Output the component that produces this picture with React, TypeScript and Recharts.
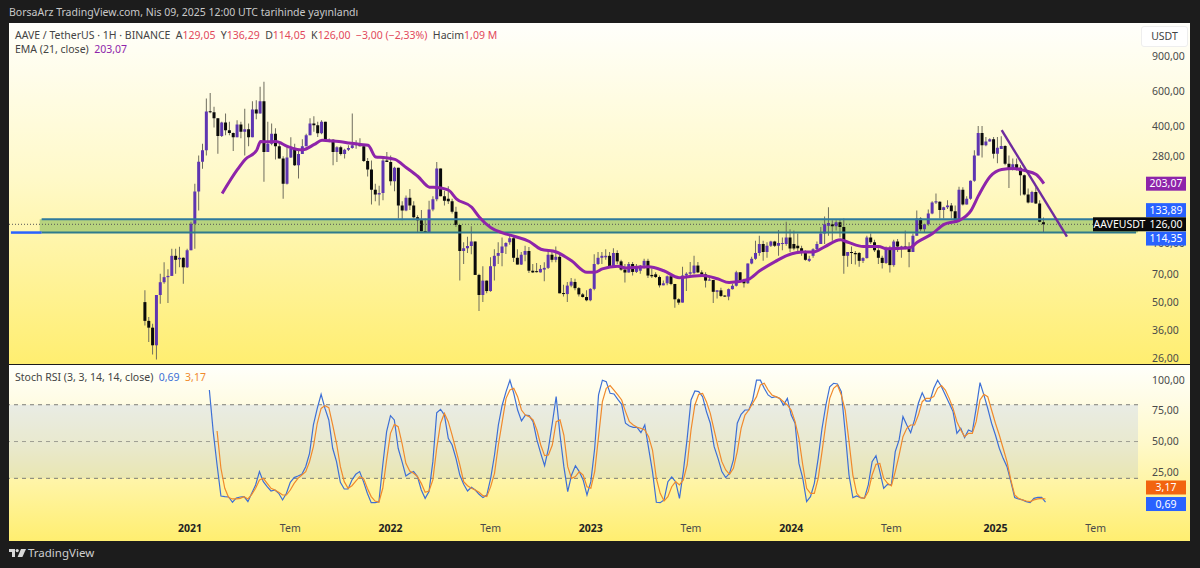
import { Bar, Cell, ComposedChart, Line, ReferenceArea, ReferenceLine, XAxis, YAxis } from "recharts";

// weekly AAVE/USDT candles (first candle sits on week slot 35)
const opens = [
  50.5, 40.5, 37.4, 30.4, 54.9, 63.8, 67.7, 68.7, 87, 83.5, 85, 76, 93, 127, 185, 263, 301, 475, 470, 438,
  356, 417, 380, 368, 350, 407, 374, 385, 350, 485, 463, 535, 295, 325, 365, 315, 273, 203, 276, 306,
  252, 288, 315, 359, 412, 404, 367, 420, 335, 340, 295, 312, 288, 303, 309, 319, 325, 315, 265, 240,
  189, 179, 182, 267, 262, 209, 245, 157, 148, 172, 157, 137, 132, 116, 114.5, 150, 169, 243, 175, 170,
  165, 146, 125, 92, 95, 97.5, 103, 69.5, 54.9, 65, 57.5, 77, 87, 90, 97, 102, 107, 85, 78.5, 88,
  92, 73, 72.6, 71.6, 74, 75.5, 88, 83, 86, 56, 55.5, 61.3, 64, 59.5, 55.3, 53.6, 51.6, 59, 79, 85,
  85.5, 87, 77, 90, 81.5, 74, 71.5, 79, 72, 73, 77.5, 82, 69.5, 70, 67.8, 61.5, 63, 68.4, 62.5, 52.2,
  50.2, 69, 70.5, 71, 77.6, 71.6, 70, 65, 65.5, 57, 58, 54.3, 53.9, 58.8, 61.2, 71.7, 65, 63, 79.5, 84,
  90, 100, 91, 98, 103, 98, 100, 100, 108, 100, 98, 95, 91, 82, 87, 94, 100, 113, 124, 126,
  123, 129, 122, 87, 91, 90, 90, 82, 84.7, 108, 102, 93, 85, 80, 95, 78, 103, 95, 97, 95,
  91, 110, 135, 119, 126, 143, 163, 164, 149, 154, 157, 147, 132, 189, 159, 170, 210, 283, 368, 319,
  333, 342, 289, 305, 316, 257, 240, 255, 245, 224, 179, 163, 184, 161, 129.05,
];
const highs = [
  58, 42.4, 39.2, 54.9, 70.4, 80.7, 74.4, 94.6, 94.6, 96.8, 85.6, 94.6, 130, 203, 283, 325, 553, 590, 502, 438,
  420, 463, 420, 371, 428, 420, 490, 412, 535, 542, 635, 673, 420, 412, 390, 333, 280, 319, 350, 325,
  306, 342, 365, 438, 448, 420, 428, 420, 345, 342, 315, 317, 306, 319, 463, 338, 346, 319, 275, 267,
  203, 198, 273, 295, 283, 248, 245, 165, 177, 191, 165, 140, 149, 135, 166, 175, 262, 243, 187, 197,
  170, 155, 125, 102, 109, 123, 103, 70.5, 77, 65, 85.5, 94, 102, 108, 102, 110, 110, 94, 91, 98,
  96.5, 79, 80, 78, 80.7, 93, 91, 97, 89, 62, 64, 67, 66.5, 60.3, 56.2, 58, 59.5, 88.5, 91, 91,
  94, 91, 95, 93, 83, 79, 81, 81, 79, 78, 84, 84, 75, 71.7, 69, 65, 69, 69, 62.5, 52.8,
  76.5, 71.7, 81, 87, 81, 73.5, 71.7, 69, 65.5, 58, 59.8, 54.7, 59.3, 62.6, 73, 72, 66.5, 79.5, 86, 104,
  110, 104, 102, 104, 104, 118, 108, 130, 119, 117, 113, 98, 93, 87, 95, 103, 122, 138, 154, 132,
  132, 133, 135, 91, 97, 92, 91, 85.5, 110, 113, 105, 95, 87, 97, 98, 105, 106, 98, 117, 102,
  113, 148, 137, 127, 150, 165, 181, 165, 155, 167, 162, 157, 196, 195, 175, 211, 301, 400, 400, 352,
  346, 352, 352, 355, 319, 283, 273, 273, 252, 226, 192, 187, 195, 167, 136.29,
];
const lows = [
  38.4, 31.6, 27.3, 25.7, 49.6, 62.6, 50, 68.9, 70.4, 76, 62.6, 75.4, 93, 94.6, 148, 242, 283, 465, 393, 289,
  352, 359, 359, 298, 350, 346, 283, 315, 350, 433, 463, 208, 295, 319, 270, 273, 170, 201, 275, 250,
  216, 288, 315, 359, 374, 352, 363, 335, 330, 252, 262, 283, 273, 298, 306, 306, 315, 262, 221, 159,
  165, 157, 167, 262, 199, 186, 135, 132, 147, 149, 135, 115, 116, 114, 114, 147, 165, 175, 157, 160,
  143, 122, 65, 79, 90, 88.5, 69.5, 45.5, 50.5, 56, 57, 65, 79, 77, 89, 99, 81, 78.5, 78, 81.5,
  71, 71, 71.5, 71.6, 64.5, 74.6, 80.7, 80.7, 56, 54, 50.6, 60.2, 58, 54, 53.3, 51, 51, 58, 78, 79,
  83, 76.5, 76.5, 79, 73, 63.5, 71.5, 69, 71, 70.5, 75, 67, 67, 67, 60, 61.5, 61.5, 61.5, 47.2, 49,
  50.2, 57.5, 69, 70, 71, 69, 60, 65, 50, 52.7, 53.7, 53.7, 51.6, 58.6, 60.6, 63.8, 60, 62.6, 78.7, 83,
  87, 82, 85, 96.5, 96.5, 87, 93, 98, 91, 93, 91, 87, 82, 81, 85, 92.5, 100, 100, 110, 104,
  117, 108, 70.5, 76.5, 79, 78.5, 76.5, 80, 84.2, 100, 91, 79, 75, 79, 71.5, 76.5, 91, 85, 94, 76,
  91, 110, 116, 115, 124, 142, 160, 135, 135, 151, 135, 130, 132, 157, 159, 168, 208, 283, 276, 315,
  333, 273, 258, 305, 252, 193, 237, 237, 177, 177, 161, 162, 160, 129, 114.05,
];
const closes = [
  40.5, 37.4, 30.4, 54.9, 63.8, 67.7, 68.7, 87, 83, 85, 76, 93, 127, 185, 263, 301, 475, 470, 438, 356,
  417, 380, 368, 350, 407, 374, 385, 350, 485, 463, 535, 295, 325, 365, 315, 273, 203, 276, 306, 252,
  288, 315, 359, 412, 404, 367, 420, 335, 340, 295, 312, 288, 303, 309, 319, 325, 315, 265, 240, 189,
  179, 182, 267, 262, 209, 245, 157, 148, 172, 157, 137, 132, 116, 114.5, 150, 169, 243, 175, 166, 165,
  146, 125, 92, 95, 97.5, 103, 69.5, 54.9, 65, 57.5, 77, 87, 90, 97, 101, 107, 85, 78.5, 88, 92,
  73, 71.6, 71.8, 74.6, 75.5, 88, 83, 86, 56, 55.5, 61.3, 64.2, 59.5, 55.3, 53.6, 51.6, 59, 79, 85, 87,
  87, 77, 90, 81.5, 74, 71.5, 79, 72, 77, 77.5, 82, 69, 68.4, 67.8, 61.5, 63, 68.4, 62.5, 52.2, 50.2,
  69, 70.5, 71.7, 77.6, 71.6, 70, 65, 65.5, 57, 58, 54.3, 53.9, 58.8, 61.2, 71.7, 65, 63, 79.5, 84, 90,
  100, 91, 98, 103, 98, 101, 101, 108, 94.7, 94.7, 95, 91, 83, 84, 94, 100, 113, 126, 128, 123,
  129, 122, 87, 91, 90, 88.5, 82, 84.7, 108, 102, 93, 85, 80, 95, 78, 103, 97, 97, 95, 91,
  110, 135, 119, 126, 143, 163, 165, 149, 154, 157, 147, 132, 189, 159, 170, 210, 283, 368, 319, 333,
  342, 289, 310, 316, 257, 240, 255, 240, 224, 179, 163, 184, 161, 130, 126,
];

// EMA and the drawn trend line are only read at their bends, connected across the gaps
const emaWeeks = [
  20, 24, 26, 29, 30, 32, 34, 37, 40, 41, 44, 46, 49, 53, 56, 58, 60, 62, 65, 68, 71, 74, 76, 79, 81, 85, 87, 90, 93, 96,
  100, 103, 107, 111, 115, 117, 119, 123, 125, 131, 135, 139, 143, 145, 149, 152, 157, 160, 164, 167, 171, 174, 177, 181,
  183, 187, 191, 193, 199, 201, 205, 208, 212, 215, 217, 220, 223, 226, 229, 232, 234,
];
const emaValues = [
  181, 240, 270, 301, 333, 332, 333, 315, 303, 303, 322, 338, 335, 328, 322, 319, 278, 276, 270, 245, 221, 195, 194, 188, 170, 154, 137, 121, 114, 109.5,
  103, 94, 91, 82, 71.7, 71.7, 74.6, 77, 75.5, 76.5, 73, 67.3, 68.7, 69, 66.4, 63.5, 66, 73, 81.3, 87.3, 91, 91, 97, 105,
  102, 97, 97, 94.6, 95.6, 102, 113, 126, 132, 148, 177, 221, 240, 243, 237, 226, 203.07,
];
const trendWeeks = [223, 240];
const trendValues = [381, 109];

// Stoch RSI, blue K starts on candle 17 and orange D on candle 19
const stochK = [
  92, 58, 30.9, 5.6, 5.1, 4.8, 0.5, 4, 4.8, 5.1, 1, 7.8, 14.6, 25.5, 17.3, 13.2, 9.7, 10.5, 7.8, 2.4,
  7.8, 16.8, 20.6, 21.9, 23.3, 29.5, 40.4, 63.5, 77, 88.5, 77, 67.6, 44.5, 33.6, 16.8, 11.3, 11.3, 18.7, 23.3, 25.5,
  17.3, 7.8, 0.2, 0.2, 1, 30.9, 58, 71.1, 67.6, 44.5, 33.6, 21.9, 24.1, 25.5, 21.4, 10.5, 3.7, 9.2, 33.6, 73.5,
  76.3, 71.6, 52.6, 47.2, 36.3, 22.7, 15.1, 9.7, 12.7, 10.5, 7, 4.3, 6.4, 20, 39, 63.5, 79.8, 90.7, 100, 89.3,
  75.7, 66.8, 71.6, 71.1, 66.2, 51.3, 40.4, 30.3, 44.5, 64.9, 86.6, 55.3, 29.5, 9.2, 22.7, 30.3, 25.5, 18.7, 6.4, 17.3,
  44.5, 88, 100, 98.8, 89.3, 88.8, 84.4, 80.3, 64.9, 62.7, 61.6, 61.6, 57.2, 63.5, 44.5, 25.5, 0.5, 0.2, 2.4, 17.3,
  21.1, 17.3, 3.7, 25.5, 52.6, 83.9, 91.2, 90.7, 86.6, 74.4, 64.9, 45.8, 36.3, 25.5, 20.6, 24.1, 35, 64.9, 72.2, 75.7,
  75.7, 83.9, 100, 100, 93.4, 88, 85.8, 86.6, 85.2, 79.8, 85.2, 71.6, 64.9, 32.2, 20, 1, 5.1, 15.9, 36.3, 60.8,
  79.8, 94.7, 97.5, 96.9, 90.7, 58, 22.7, 4.3, 5.6, 4.3, 3.7, 14.6, 33.6, 38.5, 25.5, 11.9, 15.1, 14.6, 41.8, 51.3,
  70.3, 63.5, 57.2, 67.6, 81.2, 89.8, 83, 83, 93.4, 100, 94.7, 88, 81.2, 74.4, 56.7, 60.8, 53.2, 59.4, 58, 77,
  98, 88, 77, 64.9, 55.3, 44.5, 36.3, 29.5, 17.3, 4.3, 3.2, 2.4, 1, 0.2, 3.7, 4.5, 4.5, 0.69,
];
const stochD = [
  58.6, 28.2, 11.9, 4.3, 3.2, 3.2, 3.7, 5.1, 3.2, 7, 11.9, 18.7, 20, 15.9, 11.9, 10.5, 8.6, 6.4, 6.4, 10.5,
  15.9, 20, 22.7, 25.5, 33.6, 45.8, 64.9, 77, 79.3, 77.6, 63.5, 48.6, 29.5, 17.3, 11.9, 14, 17.8, 21.4, 20, 11.9,
  5.1, 1.5, 0.5, 11.9, 35, 56.7, 64, 62.1, 48.6, 32.2, 26, 24.1, 21.4, 15.9, 8.6, 9.7, 18.7, 44.5, 64.9, 73,
  66.2, 55.3, 43.1, 30.9, 17.3, 14, 11.9, 10.5, 8.6, 5.9, 5.1, 13.2, 24.1, 47.2, 66.2, 85.2, 92, 93.4, 86.6, 75.7,
  71.6, 70.3, 67.6, 59.4, 47.2, 38.5, 39, 47.2, 66.2, 67.6, 55.3, 29.5, 20, 21.4, 25.5, 22.7, 13.2, 11.9, 25.5, 54,
  82.5, 93.4, 95.6, 92, 88, 83.9, 74.4, 66.2, 63.5, 61.6, 60.8, 59.4, 54, 43.1, 20, 7.8, 1.5, 5.1, 13.2, 17.3,
  14.6, 18.7, 30.9, 59.4, 79.8, 88.5, 89.3, 82.5, 73, 59.4, 45.8, 33.6, 26.8, 23.3, 28.2, 41.8, 60.8, 71.6, 75.7, 81.2,
  86.6, 96.1, 97.5, 92, 88, 86.6, 85.2, 82.5, 79.8, 75.7, 66.2, 52.6, 30.9, 11.9, 7.8, 7.8, 20, 41.8, 64.9, 85.2,
  93.4, 96.1, 88, 75.7, 49.9, 22.7, 7.8, 4.3, 3.7, 9.2, 22.7, 31.4, 32.2, 20, 15.9, 14, 25.5, 39, 54, 60.8,
  63.5, 63.5, 71.6, 82.5, 85.2, 85.2, 86.6, 93.4, 95.6, 92, 85.2, 77, 66.2, 59.4, 54, 56.7, 56.7, 66.2, 83.9, 88.5,
  86.6, 75.7, 64.9, 55.3, 44.5, 33.6, 18.7, 6.4, 3.7, 2.4, 1.5, 1, 2.4, 3.2, 3.7, 3.17,
];

const priceTicks = [900, 600, 400, 280, 100, 70, 50, 36, 26, 203.07, 133.89, 126, 114.35];
const stochTicks = [100, 75, 50, 25, 3.17, 0.69];
const timeWeeks = [47, 73, 99, 125, 151, 177, 203, 229, 256, 282];
const timeLabels = ["2021", "Tem", "2022", "Tem", "2023", "Tem", "2024", "Tem", "2025", "Tem"];

const FONT = "'Noto Sans', sans-serif";
const WEEK_SLOTS = 294;
const FIRST_CANDLE = 35;
const ZONE_TOP = 133.89;
const ZONE_BOTTOM = 114.35;
const ZONE_START = 8;
const UP = "#5e35b1";
const DOWN = "#0a0a0a";
const WICK = "#6f6d5e";
const GRADIENT = "linear-gradient(180deg, #fffffb 0%, #fff9c9 45%, #ffee70 100%)";

const rows = Array.from({ length: WEEK_SLOTS }, (_, week) => {
  const i = week - FIRST_CANDLE;
  const hasCandle = i >= 0 && i < opens.length;
  const emaAt = emaWeeks.indexOf(i);
  const trendAt = trendWeeks.indexOf(i);
  return {
    week,
    wick: hasCandle ? [lows[i], highs[i]] : null,
    body: hasCandle ? [Math.min(opens[i], closes[i]), Math.max(opens[i], closes[i])] : null,
    up: hasCandle && closes[i] >= opens[i],
    ema: emaAt >= 0 ? emaValues[emaAt] : null,
    trend: trendAt >= 0 ? trendValues[trendAt] : null,
    k: i >= 17 && i - 17 < stochK.length ? stochK[i - 17] : null,
    d: i >= 19 && i - 19 < stochD.length ? stochD[i - 19] : null,
  };
});

const fmt = (v: number) => v.toFixed(2).replace(".", ",");

// price labels that sit in a coloured box, some nudged apart like TradingView does
const chips: Record<string, { fill: string; shift: number; name?: string }> = {
  "203.07": { fill: "#8e24aa", shift: 0 },
  "133.89": { fill: "#2962ff", shift: -9 },
  "126": { fill: "#0a0a0a", shift: 0, name: "AAVEUSDT" },
  "114.35": { fill: "#2962ff", shift: 6 },
  "3.17": { fill: "#f2640f", shift: -11.5 },
  "0.69": { fill: "#2962ff", shift: 2 },
};

function ValueTick({ x, y, payload }: any) {
  const value = payload.value as number;
  const chip = chips[String(value)];
  if (!chip) {
    return (
      <text x={x + 6} y={y + 3.5} fontSize={10.5} fontFamily={FONT} fill="#4a4a4a">
        {fmt(value)}
      </text>
    );
  }
  const cy = y + chip.shift;
  return (
    <g>
      {chip.name && (
        <>
          <rect x={x - 53} y={cy - 7} width={53} height={14} fill={chip.fill} />
          <text x={x - 26.5} y={cy + 3.5} textAnchor="middle" fontSize={10.5} fontFamily={FONT} fill="#fff">
            {chip.name}
          </text>
        </>
      )}
      <rect x={x} y={cy - 7} width={40} height={14} fill={chip.fill} />
      <text x={x + 20} y={cy + 3.5} textAnchor="middle" fontSize={10.5} fontFamily={FONT} fill="#fff">
        {fmt(value)}
      </text>
    </g>
  );
}

function TimeTick({ x, y, payload }: any) {
  const label = timeLabels[timeWeeks.indexOf(payload.value)];
  const isYear = label !== "Tem";
  return (
    <text x={x} y={y} textAnchor="middle" fontSize={10.5} fontFamily={FONT} fontWeight={isYear ? 700 : 400} fill={isYear ? "#222" : "#4a4a4a"}>
      {label}
    </text>
  );
}

const red = { color: "#e2495c" };

export default function App() {
  return (
    <div style={{ position: "absolute", left: 0, top: 0, width: 1200, height: 568, background: "#1c1c1c", overflow: "hidden", fontFamily: FONT }}>
      <div style={{ position: "absolute", left: 9, top: 5, fontSize: 10.5, color: "#c9c9c9", whiteSpace: "nowrap" }}>
        BorsaArz TradingView.com, Nis 09, 2025 12:00 UTC tarihinde yayınlandı
      </div>

      <div style={{ position: "absolute", left: 9, top: 23, width: 1181, height: 341, background: GRADIENT }}>
        <ComposedChart width={1181} height={341} data={rows} margin={{ top: 0, right: 0, bottom: 0, left: 0 }}>
          <XAxis dataKey="week" hide />
          <XAxis dataKey="week" xAxisId="wick" hide />
          <YAxis
            orientation="right"
            width={52}
            scale="log"
            domain={[24.4, 1342]}
            allowDataOverflow
            ticks={priceTicks}
            interval={0}
            tick={<ValueTick />}
            tickLine={false}
            axisLine={false}
          />
          <ReferenceArea x1={ZONE_START} x2={WEEK_SLOTS - 1} y1={ZONE_BOTTOM} y2={ZONE_TOP} fill="#6fb04a" fillOpacity={0.5} stroke="none" />
          <ReferenceLine segment={[{ x: ZONE_START, y: ZONE_TOP }, { x: WEEK_SLOTS - 1, y: ZONE_TOP }]} stroke="#2f7a9c" strokeWidth={2} />
          <ReferenceLine segment={[{ x: ZONE_START, y: ZONE_BOTTOM }, { x: WEEK_SLOTS - 1, y: ZONE_BOTTOM }]} stroke="#2f7a8c" strokeWidth={2} />
          <ReferenceLine segment={[{ x: 0, y: ZONE_BOTTOM }, { x: ZONE_START, y: ZONE_BOTTOM }]} stroke="#2962ff" strokeWidth={2.5} />
          <ReferenceLine y={126} stroke="#555" strokeDasharray="1 2" />
          <Bar dataKey="wick" xAxisId="wick" barSize={1} fill={WICK} isAnimationActive={false} />
          <Bar dataKey="body" barSize={3} minPointSize={1} isAnimationActive={false}>
            {rows.map((r) => (
              <Cell key={r.week} fill={r.up ? UP : DOWN} />
            ))}
          </Bar>
          <Line dataKey="ema" type="monotone" connectNulls dot={false} stroke="#8e24aa" strokeWidth={3} isAnimationActive={false} />
          <Line dataKey="trend" type="linear" connectNulls dot={false} stroke="#6f2b9e" strokeWidth={2.4} isAnimationActive={false} />
        </ComposedChart>
        <div style={{ position: "absolute", left: 6, top: 5, fontSize: 10.5, color: "#444", whiteSpace: "nowrap" }}>
          AAVE / TetherUS · 1H · BINANCE&nbsp;&nbsp;A<span style={red}>129,05</span>&nbsp;&nbsp;Y<span style={red}>136,29</span>&nbsp;&nbsp;D<span style={red}>114,05</span>&nbsp;&nbsp;K<span style={red}>126,00</span>&nbsp;&nbsp;<span style={red}>−3,00 (−2,33%)</span>&nbsp;&nbsp;Hacim<span style={red}>1,09 M</span>
        </div>
        <div style={{ position: "absolute", left: 6, top: 19, fontSize: 10.5, color: "#444", whiteSpace: "nowrap" }}>
          EMA (21, close)&nbsp;&nbsp;<span style={{ color: "#8e24aa" }}>203,07</span>
        </div>
        <div style={{ position: "absolute", left: 1132, top: 3, width: 47, height: 21, boxSizing: "border-box", border: "1px solid #eeeeee", borderRadius: 3, background: "#fff", fontSize: 10.5, color: "#444", textAlign: "center", lineHeight: "19px" }}>
          USDT
        </div>
      </div>

      <div style={{ position: "absolute", left: 9, top: 365, width: 1181, height: 176, background: GRADIENT }}>
        <ComposedChart width={1181} height={176} data={rows} margin={{ top: 0, right: 0, bottom: 0, left: 0 }}>
          <XAxis dataKey="week" ticks={timeWeeks} interval={0} height={25} tick={<TimeTick />} tickLine={false} axisLine={false} tickMargin={10} />
          <YAxis
            orientation="right"
            width={52}
            domain={[-10.7, 112.4]}
            allowDataOverflow
            ticks={stochTicks}
            interval={0}
            tick={<ValueTick />}
            tickLine={false}
            axisLine={false}
          />
          <ReferenceArea y1={20} y2={80} fill="#2962ff" fillOpacity={0.1} stroke="none" />
          <ReferenceLine y={80} stroke="#7d7d78" strokeDasharray="4 4" />
          <ReferenceLine y={50} stroke="#7d7d78" strokeOpacity={0.7} strokeDasharray="4 4" />
          <ReferenceLine y={20} stroke="#7d7d78" strokeDasharray="4 4" />
          <Line dataKey="k" type="linear" dot={false} stroke="#3d6fd6" strokeWidth={1.2} isAnimationActive={false} />
          <Line dataKey="d" type="linear" dot={false} stroke="#f08a2c" strokeWidth={1.2} isAnimationActive={false} />
        </ComposedChart>
        <div style={{ position: "absolute", left: 6, top: 5, fontSize: 10.5, color: "#444", whiteSpace: "nowrap" }}>
          Stoch RSI (3, 3, 14, 14, close)&nbsp;&nbsp;<span style={{ color: "#3d6fd6" }}>0,69</span>&nbsp;&nbsp;<span style={{ color: "#f08a2c" }}>3,17</span>
        </div>
      </div>

      <svg style={{ position: "absolute", left: 9, top: 549 }} width={17} height={9} viewBox="0 0 17 9">
        <path d="M0 0h6v8H3V3H0z" fill="#d8d8d8" />
        <circle cx="8.2" cy="1.6" r="1.6" fill="#d8d8d8" />
        <path d="M12 0h5l-3.6 8H8.6z" fill="#d8d8d8" />
      </svg>
      <div style={{ position: "absolute", left: 28, top: 545, fontSize: 11.5, color: "#cfcfcf", whiteSpace: "nowrap" }}>TradingView</div>
    </div>
  );
}
